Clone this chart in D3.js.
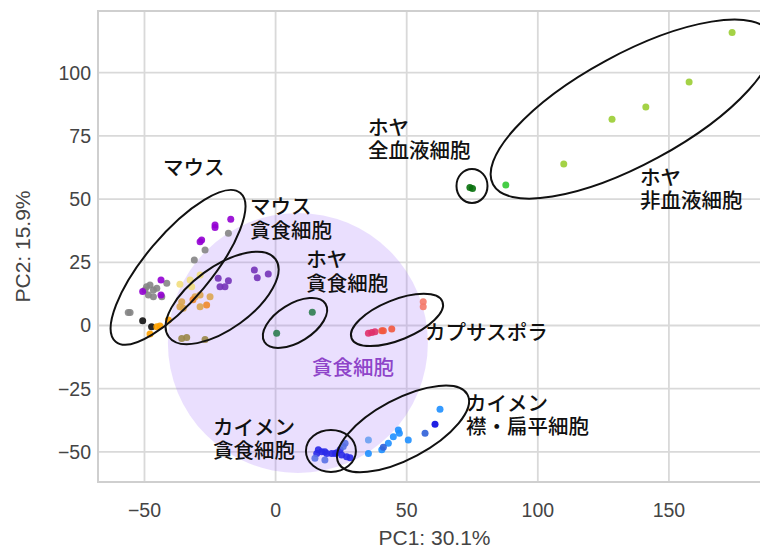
<!DOCTYPE html>
<html><head><meta charset="utf-8">
<script src="https://cdn.jsdelivr.net/npm/d3@7"></script>
<style>body{margin:0;background:#fff} svg{display:block}</style>
</head><body><svg id="c" width="760" height="551"></svg>
<script>
// ---- data (PC1, PC2) ----
const xTicks = [-50, 0, 50, 100, 150];
const yTicks = [-50, -25, 0, 25, 50, 75, 100];
const xTitle = "PC1: 30.1%";
const yTitle = "PC2: 15.9%";

const mouseViolet = [[-17.1,42.0],[-23.1,39.8],[-23.1,38.8],[-28.2,33.8],[-28.8,33.1],[-43.7,18.0],[-50.7,13.4],[-43.7,12.1]];
const mouseGrey = [[-18.0,36.5],[-26.9,29.9],[-31.0,25.9],[-49.2,15.3],[-47.9,16.0],[-49.8,14.0],[-46.6,14.0],[-45.3,14.7],[-41.5,16.7],[-48.5,12.1],[-46.6,11.4],[-43.4,11.4],[-55.5,5.1],[-56.2,5.1]];
const mouseBlack = [[-50.7,1.9],[-47.3,-0.5]];
const mouseOrange = [[-45.3,-0.5],[-44.1,-0.2],[-47.9,-3.4],[-40.9,2.2]];
const mouseKhaki = [[-36.5,16.3],[-32.6,18.0],[-28.8,20.0],[-32.0,15.3]];
const mouseTan = [[-30.7,11.4],[-28.8,12.1],[-35.8,9.4],[-36.5,7.4],[-25.0,11.4],[-28.8,7.4],[-35.2,6.8]];
const mouseAmber = [[-26.3,8.1],[-31.5,10.2]];
const mouseOlive = [[-35.8,-5.1],[-33.9,-4.7],[-26.9,-5.5]];
const mousePhago = [[-21.9,18.7],[-18.0,17.7],[-21.2,15.3],[-19.3,15.3],[-8.1,22.0],[-7.0,18.9],[-2.8,20.4]];
const ascPhago = [[14.0,5.2],[0.4,-3.1]];
const capsCrimson = [[35.4,-3.1],[36.7,-2.8],[37.9,-2.5]];
const capsOrange = [[40.5,-2.1],[41.1,-2.1],[44.3,-1.4]];
const capsSalmon = [[56.3,9.4],[56.3,7.4]];
const spongePhago = [[16.3,-49.2],[15.7,-50.6],[17.6,-49.9],[18.8,-49.9],[19.5,-50.6],[21.4,-50.6],[22.7,-50.6],[23.3,-50.3],[24.6,-49.2],[25.2,-51.2],[27.1,-51.9],[28.4,-52.3]];
const spongePhagoLight = [[25.8,-47.9],[26.5,-46.6],[15.0,-52.5],[18.8,-53.2]];
const spongeChoano = [[35.4,-50.6],[40.5,-49.2],[43.0,-46.6],[44.9,-44.0],[46.8,-41.3],[47.2,-42.6],[50.6,-45.3],[62.7,-33.1]];
const spongeChoanoLight = [[35.4,-45.3]];
const spongeChoanoDark = [[41.1,-48.2],[57.0,-42.6]];
const spongeChoanoDeep = [[60.8,-39.1]];
const ascNonBlood = [[174.1,115.9],[157.7,96.3],[141.2,86.4],[128.3,81.6],[109.9,63.9]];
const ascNonBloodBright = [[87.8,55.6]];
const ascBlood = [[74.1,54.6],[75.1,54.2]];

// annotation geometry (centre in data units)
const groupRings = [
  {cx:-37.2, cy:23.0, a:97, b:33, rot:-50},
  {cx:-20.4, cy:10.9, a:66, b:31, rot:-36},
  {cx:7.4, cy:1.0, a:36, b:19, rot:-32},
  {cx:46.3, cy:2.2, a:49, b:20, rot:-22},
  {cx:21.1, cy:-49.6, a:25, b:21, rot:0},
  {cx:48.6, cy:-40.9, a:73, b:30, rot:-28},
  {cx:74.9, cy:55.2, a:15.5, b:17, rot:0},
  {cx:135.9, cy:85.6, a:158, b:55, rot:-28.5}
];
const phagoZone = {cx:8.5, cy:-6.9, r:130};

const labels = [
  {x:-42.9, y:59.5, lines:["マウス"], color:"#111"},
  {x:-9.8, y:44.1, lines:["マウス","貪食細胞"], color:"#111"},
  {x:11.7, y:23.1, lines:["ホヤ","貪食細胞"], color:"#111"},
  {x:35.2, y:75.4, lines:["ホヤ","全血液細胞"], color:"#111"},
  {x:139.0, y:55.6, lines:["ホヤ","非血液細胞"], color:"#111"},
  {x:57.0, y:-5.9, lines:["カプサスポラ"], color:"#111"},
  {x:72.6, y:-33.8, lines:["カイメン","襟・扁平細胞"], color:"#111"},
  {x:-23.9, y:-43.3, lines:["カイメン","貪食細胞"], color:"#111"},
  {x:13.9, y:-19.6, lines:["貪食細胞"], color:"#8e44c9"}
];

const series = [
  {d:mouseGrey, c:"#858585"},
  {d:mouseViolet, c:"#9400d3"},
  {d:mouseBlack, c:"#111111"},
  {d:mouseOrange, c:"#ffa200"},
  {d:mouseKhaki, c:"#f2de7e"},
  {d:mouseTan, c:"#dca550"},
  {d:mouseAmber, c:"#f08a2a"},
  {d:mouseOlive, c:"#9a8748"},
  {d:mousePhago, c:"#7433b8"},
  {d:ascPhago, c:"#2e7d50"},
  {d:capsCrimson, c:"#e0306a"},
  {d:capsOrange, c:"#f2583e"},
  {d:capsSalmon, c:"#f47a6a"},
  {d:spongePhago, c:"#2a2ae8"},
  {d:spongePhagoLight, c:"#5a72e6"},
  {d:spongeChoano, c:"#1e8fff"},
  {d:spongeChoanoLight, c:"#6aa0f2"},
  {d:spongeChoanoDark, c:"#2f5fd8"},
  {d:spongeChoanoDeep, c:"#0808e0"},
  {d:ascNonBlood, c:"#9acd32"},
  {d:ascNonBloodBright, c:"#32c832"},
  {d:ascBlood, c:"#08700c"}
];

// ---- layout ----
const W = 760, H = 551;
const L = 98, R = 775, T = 11, B = 482;
const x = d3.scaleLinear().domain([-67.73, 190.46]).range([L, R]);
const y = d3.scaleLinear().domain([-61.91, 124.41]).range([B, T]);

const svg = d3.select("#c");
svg.append("defs").append("clipPath").attr("id","plot")
  .append("rect").attr("x",L).attr("y",T).attr("width",R-L).attr("height",B-T);

svg.append("rect").attr("x",L).attr("y",T).attr("width",R-L).attr("height",B-T).attr("fill","#fff");

const grid = svg.append("g");
grid.selectAll(".vx").data(xTicks).join("line")
  .attr("x1",d=>x(d)).attr("x2",d=>x(d)).attr("y1",T).attr("y2",B)
  .attr("stroke","#d9d9d9").attr("stroke-width",1.8);
grid.selectAll(".hy").data(yTicks).join("line")
  .attr("y1",d=>y(d)).attr("y2",d=>y(d)).attr("x1",L).attr("x2",R)
  .attr("stroke","#d9d9d9").attr("stroke-width",1.8);

const plot = svg.append("g").attr("clip-path","url(#plot)");
plot.append("circle").attr("cx",x(phagoZone.cx)).attr("cy",y(phagoZone.cy)).attr("r",phagoZone.r)
  .attr("fill","rgb(160,110,250)").attr("fill-opacity",0.22);

series.forEach(s=>{
  plot.append("g").selectAll("circle").data(s.d).join("circle")
    .attr("cx",d=>x(d[0])).attr("cy",d=>y(d[1])).attr("r",3.5)
    .attr("fill",s.c).attr("fill-opacity",0.9);
});

plot.append("g").selectAll("ellipse").data(groupRings).join("ellipse")
  .attr("transform",d=>`translate(${x(d.cx)},${y(d.cy)}) rotate(${d.rot})`)
  .attr("rx",d=>d.a).attr("ry",d=>d.b)
  .attr("fill","none").attr("stroke","#111").attr("stroke-width",2);

const lab = svg.append("g").attr("font-family","'Noto Sans CJK JP', sans-serif")
  .attr("font-size",20.5).attr("font-weight",500);
labels.forEach(l=>{
  const t = lab.append("text").attr("x",x(l.x)).attr("y",y(l.y)).attr("fill",l.color);
  l.lines.forEach((s,i)=>t.append("tspan").attr("x",x(l.x)).attr("dy",i?23.5:0).text(s));
});

svg.append("rect").attr("x",L).attr("y",T).attr("width",R-L).attr("height",B-T)
  .attr("fill","none").attr("stroke","#cfcfcf").attr("stroke-width",2);

const ax = svg.append("g").attr("font-family","'Liberation Sans', Arial, sans-serif").attr("fill","#444");
ax.selectAll(".xt").data(xTicks).join("text")
  .attr("x",d=>x(d)).attr("y",517).attr("text-anchor","middle").attr("font-size",19.5)
  .text(d=>d3.format("")(d).replace("-","\u2212"));
ax.selectAll(".yt").data(yTicks).join("text")
  .attr("x",91).attr("y",d=>y(d)).attr("dy","0.35em").attr("text-anchor","end").attr("font-size",19.5)
  .text(d=>d3.format("")(d).replace("-","\u2212"));
ax.append("text").attr("x",(L+R)/2 - 2).attr("y",545).attr("text-anchor","middle").attr("font-size",21).text(xTitle);
ax.append("text").attr("transform",`translate(30,${(T+B)/2}) rotate(-90)`).attr("text-anchor","middle").attr("font-size",21).text(yTitle);
</script></body></html>
